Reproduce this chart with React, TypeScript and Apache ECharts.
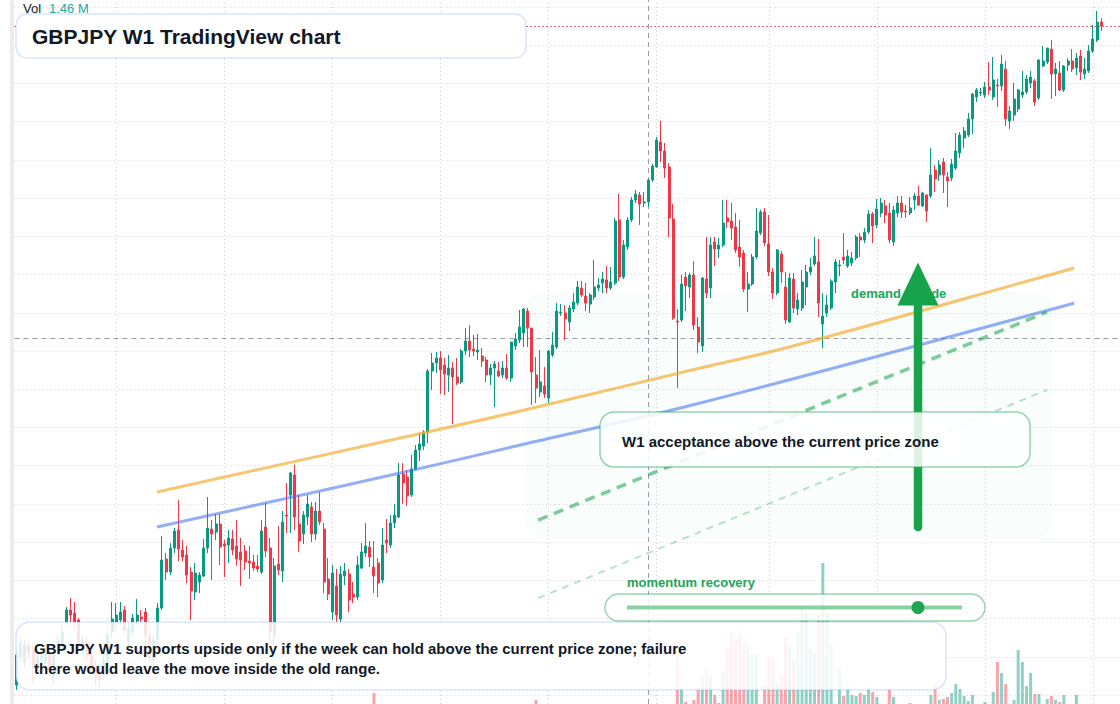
import React, { useEffect, useRef } from 'react';
import * as echarts from 'echarts';

// ---- weekly candles: [open, close, low, high] ----
const ohlc: number[][] = [
  [123.3,126.3,122.8,126.8],[126.1,127.5,125.6,128.0],[125.6,127.3,125.0,127.8],[127.2,126.6,125.8,127.6],
  [126.8,125.2,123.5,127.3],[125.3,126.1,124.8,126.6],[125.8,126.3,125.3,126.8],[125.6,126.4,125.2,127.0],
  [126.3,124.8,124.3,126.8],[124.2,126.3,123.4,126.8],[126.8,127.8,126.3,128.2],[127.3,128.6,127.0,129.1],
  [129.6,130.8,129.2,131.1],[130.8,130.3,129.3,132.0],[130.5,129.6,128.8,131.6],[129.8,127.3,126.8,130.0],
  [127.0,127.8,126.3,128.2],[127.6,126.3,125.6,128.0],[126.3,124.8,124.5,126.8],[125.0,124.3,123.3,125.8],
  [124.8,123.8,123.0,125.3],[124.3,125.8,123.8,126.3],[124.6,128.3,124.2,128.8],[128.6,129.9,128.0,131.6],
  [129.6,130.3,128.8,131.5],[129.8,130.6,129.3,131.6],[130.8,128.8,128.4,131.2],[127.6,129.0,127.2,129.6],
  [128.6,130.0,128.2,130.4],[129.7,130.3,129.3,131.9],[130.1,129.9,129.6,130.8],[130.6,128.3,127.3,131.0],
  [128.2,126.0,125.6,128.8],[125.8,127.8,125.3,128.3],[127.8,131.0,127.5,131.5],[131.0,135.8,130.8,138.2],
  [135.9,134.6,133.8,136.5],[134.6,137.0,134.3,137.5],[137.0,138.7,136.5,139.0],[138.8,136.9,135.7,141.8],
  [136.8,136.1,135.7,137.8],[136.3,134.3,133.5,137.2],[134.6,132.7,129.8,135.1],[132.6,134.5,131.8,135.5],
  [133.6,134.3,132.5,134.6],[134.2,137.0,134.1,137.9],[137.0,139.0,136.5,142.1],[138.9,138.4,133.8,139.8],
  [138.6,139.4,137.8,140.4],[139.4,137.1,135.3,140.4],[137.4,137.2,134.1,137.8],[137.3,138.0,135.5,138.8],
  [137.9,136.8,136.3,138.8],[137.2,135.9,135.2,139.8],[136.6,135.8,133.2,138.0],[136.7,135.6,134.8,137.3],
  [135.7,135.5,133.9,137.2],[135.6,135.0,134.7,136.3],[135.2,134.9,134.6,136.3],[134.6,138.7,134.4,139.8],
  [139.1,136.7,136.1,141.5],[137.0,128.6,127.8,138.0],[128.2,135.2,127.3,136.0],[135.4,134.8,134.3,139.2],
  [134.7,139.6,133.6,140.7],[140.3,140.2,138.5,143.5],[142.3,144.5,138.5,144.6],[144.3,140.1,138.8,145.3],
  [139.4,137.7,136.6,142.3],[138.4,140.3,137.4,140.7],[140.1,141.4,139.3,142.3],[141.1,138.4,137.6,141.6],
  [138.4,140.7,137.8,141.6],[140.7,139.6,139.3,142.6],[138.9,133.6,132.5,139.5],[133.9,132.4,131.8,136.0],
  [130.6,134.5,129.8,135.3],[133.2,130.3,129.6,134.9],[129.9,134.4,129.4,135.2],[134.2,134.7,133.3,135.5],
  [134.4,131.8,130.6,134.9],[132.4,132.1,131.5,133.6],[132.1,135.3,131.8,136.2],[135.0,136.6,134.9,137.5],
  [136.5,137.2,136.1,139.5],[137.1,136.1,135.1,137.7],[135.1,134.2,132.5,137.7],[135.5,133.5,132.1,136.0],
  [133.8,137.3,133.5,139.0],[137.8,137.5,136.5,139.9],[137.3,139.5,137.0,140.3],[139.5,140.3,139.0,141.4],
  [140.1,144.3,140.0,145.5],[144.4,143.5,141.4,145.5],[144.1,142.2,141.2,144.8],[142.3,144.9,142.1,146.3],
  [144.9,146.8,144.8,147.3],[146.8,147.4,145.7,148.5],[147.2,148.5,146.8,148.8],[148.6,154.7,147.5,154.9],
  [154.7,155.5,152.8,156.5],[155.5,156.0,154.5,156.6],[156.0,154.8,152.4,156.7],[155.3,154.4,152.3,156.0],
  [154.3,155.0,152.6,156.3],[155.0,154.1,149.4,155.6],[154.1,153.5,153.3,156.0],[153.6,156.7,153.4,156.9],
  [156.7,157.7,156.3,159.0],[157.7,156.8,156.1,159.3],[156.9,156.7,156.2,158.3],[156.6,156.8,155.8,158.4],
  [156.2,155.7,155.1,157.0],[155.8,154.3,153.6,156.1],[154.3,155.0,153.3,155.4],[155.0,155.4,151.1,155.7],
  [154.7,154.2,154.1,155.6],[154.3,155.0,154.0,155.7],[155.0,154.0,153.8,156.4],[154.0,157.6,153.6,157.6],
  [157.2,157.9,156.8,158.5],[157.8,159.1,157.5,160.8],[158.5,160.9,157.1,161.0],[160.7,159.0,157.1,161.0],
  [159.0,154.6,151.3,159.0],[154.3,153.0,151.5,156.1],[152.6,153.6,152.1,156.8],[153.2,152.4,152.0,155.1],
  [152.0,156.7,151.5,156.8],[156.3,157.3,156.1,158.6],[157.1,160.7,156.9,161.5],[160.5,160.6,160.2,161.4],
  [160.5,159.9,157.8,161.3],[159.6,161.0,158.7,161.3],[160.9,161.6,160.6,162.5],[161.5,163.1,161.3,163.7],
  [163.0,162.3,162.1,163.7],[162.2,161.5,160.7,163.5],[161.4,162.3,160.5,162.5],[162.1,163.1,161.8,165.8],
  [163.0,163.3,162.7,164.0],[163.5,163.9,162.5,164.6],[163.8,163.0,162.5,165.2],[163.0,163.6,162.8,165.1],
  [163.5,169.7,163.3,170.0],[169.8,164.1,163.7,172.4],[164.1,167.3,163.9,167.8],[167.1,169.8,166.8,170.1],
  [169.8,171.8,169.6,172.1],[171.8,172.4,171.5,172.8],[172.3,171.4,169.3,172.6],[171.5,171.6,171.1,172.6],
  [171.6,173.8,171.1,173.9],[173.8,175.2,173.6,175.4],[175.1,177.8,175.0,178.1],[177.6,176.7,175.6,179.7],
  [176.7,175.0,174.0,177.5],[175.1,170.0,168.1,175.5],[169.9,160.0,159.8,171.4],[159.7,159.6,153.0,160.9],
  [159.8,163.4,159.6,164.3],[164.1,163.2,160.7,164.6],[163.1,164.3,162.0,164.5],[164.3,159.3,158.8,165.7],
  [159.1,157.6,156.5,160.1],[157.2,164.0,156.6,164.1],[163.9,162.5,162.0,168.1],[163.0,167.3,162.0,168.1],
  [167.6,166.9,165.2,168.1],[166.9,167.3,166.0,168.0],[167.3,169.5,167.1,171.8],[170.0,169.6,169.0,171.8],
  [169.7,169.0,167.8,171.5],[169.1,166.8,166.5,170.5],[167.1,166.1,165.1,169.8],[166.5,162.9,162.6,166.8],
  [162.9,163.4,160.6,164.6],[163.4,166.1,163.2,166.4],[166.1,168.7,165.9,171.0],[168.5,170.6,168.3,170.8],
  [170.6,167.5,167.2,171.0],[167.4,164.6,164.2,170.3],[164.6,162.5,161.9,165.0],[162.5,166.8,162.3,166.9],
  [166.4,164.6,163.5,166.7],[163.1,159.8,159.4,164.6],[159.6,164.0,159.5,164.5],[163.9,161.0,160.5,164.5],
  [160.9,161.8,160.3,162.5],[161.0,163.6,160.7,164.8],[163.1,164.6,161.3,165.3],[164.6,165.1,164.3,166.0],
  [165.4,166.2,165.2,168.1],[165.6,161.5,160.1,167.9],[159.4,160.2,157.0,162.5],[160.5,161.3,160.1,162.3],
  [161.0,163.7,160.8,163.9],[163.6,165.6,162.5,165.9],[165.2,165.3,164.2,165.8],[166.1,165.8,165.4,168.5],
  [165.2,166.2,165.0,166.8],[165.5,166.0,165.2,166.6],[166.0,168.1,165.8,168.3],[168.1,167.8,166.1,168.5],
  [167.8,168.6,167.5,169.0],[168.6,170.4,168.4,170.8],[170.4,169.2,167.5,170.6],[169.3,170.9,169.0,171.9],
  [170.5,171.5,170.1,172.0],[171.2,170.3,169.5,171.8],[170.5,167.8,167.5,171.5],[167.6,170.8,167.2,171.2],
  [170.5,171.5,170.1,172.2],[171.5,170.6,170.0,172.2],[170.7,170.6,170.0,171.3],[170.5,171.0,170.3,172.1],
  [171.8,172.2,170.8,172.5],[172.2,171.3,171.2,173.2],[171.2,172.5,171.1,172.6],[172.3,170.7,169.6,172.4],
  [172.2,174.3,172.0,177.0],[174.8,173.9,172.6,175.3],[174.3,175.3,173.7,175.8],[175.6,174.3,172.5,176.0],
  [174.1,173.7,171.1,174.6],[174.0,175.4,173.7,175.9],[175.0,176.7,174.8,178.5],[176.5,178.3,176.0,178.6],
  [178.0,178.7,177.0,179.1],[178.3,179.9,178.1,180.5],[179.9,182.4,178.4,182.5],[182.1,182.8,181.6,183.0],
  [182.5,182.6,182.2,183.0],[182.3,183.1,182.0,183.6],[183.1,182.8,182.3,185.6],[182.1,183.8,181.8,186.1],
  [183.3,183.2,181.1,183.9],[183.2,185.4,182.7,186.3],[184.9,179.9,179.2,185.7],[179.7,180.7,178.9,181.2],
  [180.3,181.9,179.7,183.5],[180.9,182.8,180.6,182.9],[182.3,182.6,182.0,184.7],[182.6,183.9,182.4,184.3],
  [183.5,184.1,183.0,184.7],[183.7,181.6,181.2,183.9],[182.0,185.8,181.8,185.9],[185.2,185.7,185.1,187.2],
  [185.6,187.0,185.4,187.0],[186.9,184.4,181.9,187.8],[184.4,184.9,182.2,185.5],[184.5,182.8,182.7,185.7],
  [182.8,185.2,182.6,185.3],[185.3,185.7,184.7,186.0],[185.7,184.9,184.6,186.9],[185.0,186.0,184.3,186.5],
  [186.2,184.6,183.8,186.8],[184.4,184.9,183.9,186.0],[184.7,186.7,184.5,187.3],[186.7,187.9,186.5,189.3],
  [187.8,189.6,187.6,190.7],[189.6,189.2,188.7,190.0],
];

// ---- volume (thousands) ----
const earlyVolumeK: number[][] = [[86, 110], [125, 40]];
const volumeStartWeek = 159;
const volumeK: number[] = [
  470,160,20,0,40,170,270,340,280,90,10,330,550,710,640,700,610,590,500,500,
  0,180,480,470,210,280,670,580,450,710,990,910,560,510,890,1410,910,590,0,350,
  80,180,90,80,110,90,170,120,70,0,0,150,70,0,0,0,10,0,0,0,
  0,90,210,40,50,70,110,200,150,80,30,90,0,0,20,0,120,420,310,200,
  0,40,540,420,180,310,100,100,0,50,80,40,20,90,0,0,90,0,0,0,0,0,0,
];

// ---- drawn trend lines: [week index, price] ----
const orangeChannel: number[][] = [[33.8,142.6],[92.3,148.0],[121.2,150.7],[164.5,155.0],[185.9,157.1],[251.1,164.6],[254.5,165.0]];
const blueChannel: number[][] = [[33.8,139.1],[92.3,144.5],[121.2,147.3],[164.5,151.5],[251.1,161.1],[254.5,161.5]];
const greenDashUpper: number[][] = [[125.5,139.8],[247.9,160.6]];
const greenDashLower: number[][] = [[125.5,132.0],[247.9,152.8]];

const gridWeeks = [24, 50, 76, 102, 128, 154, 181, 207, 233, 259];
const crosshairWeek = 152;
const crosshairPrice = 158.0;
const totalSlots = 266;

const categories = Array.from({ length: totalSlots }, (_, i) => String(i));

const FONT = '"Liberation Sans", Arial, Helvetica, sans-serif';
const UP = '#089981';
const DOWN = '#f23645';

export default function App() {
  const ref = useRef<HTMLDivElement>(null);

  useEffect(() => {
    if (!ref.current) return;
    const chart = echarts.init(ref.current, null, { renderer: 'svg', width: 1120, height: 704 });

    const volumes: number[] = ohlc.map(() => 0);
    earlyVolumeK.forEach(([w, v]) => { volumes[w] = v; });
    volumeK.forEach((v, k) => { if (volumeStartWeek + k < volumes.length) volumes[volumeStartWeek + k] = v; });
    const volumeData = volumes.map((v, i) => ({
      value: v,
      itemStyle: { color: ohlc[i][1] >= ohlc[i][0] ? 'rgba(8,153,129,0.45)' : 'rgba(242,54,69,0.45)' },
    }));
    const lastClose = ohlc[ohlc.length - 1][1];

    const gridLine = { color: '#cdd0d6', width: 1, type: [1, 3] as number[] };

    const option: any = {
      animation: false,
      backgroundColor: '#ffffff',
      grid: [
        { left: 14.42, right: 0, top: 7, bottom: 9 },
        { left: 14.42, right: 0, top: 504, bottom: 0 },
        { left: 14.42, right: 0, top: 0, bottom: 0 },
      ],
      xAxis: [
        { type: 'category', gridIndex: 0, data: categories, boundaryGap: true, show: false },
        { type: 'value', gridIndex: 0, min: -0.5, max: totalSlots - 0.5, show: false },
        { type: 'value', gridIndex: 2, min: -0.5, max: totalSlots - 0.5, show: false },
        { type: 'category', gridIndex: 1, data: categories, boundaryGap: true, show: false },
      ],
      yAxis: [
        {
          type: 'value', gridIndex: 0, min: 122.304, max: 191.1, interval: 3.822,
          axisLabel: { show: false }, axisLine: { show: false }, axisTick: { show: false },
          splitLine: { show: true, lineStyle: gridLine },
        },
        { type: 'value', gridIndex: 1, min: 0, max: 2000, show: false },
        { type: 'value', gridIndex: 2, min: 0, max: 1, show: false },
      ],
      series: [
        {
          type: 'line', xAxisIndex: 2, yAxisIndex: 2, data: [[-5, 0.5]], showSymbol: false, silent: true, z: 1,
          lineStyle: { width: 0 },
          markLine: {
            silent: true, symbol: ['none', 'none'], label: { show: false }, z: 1, animation: false,
            data: [
              ...gridWeeks.map((w) => ({ xAxis: w, lineStyle: gridLine })),
              { xAxis: crosshairWeek, lineStyle: { color: '#9a9da5', width: 1, type: [5, 4] } },
            ],
          },
        },
        {
          type: 'bar', xAxisIndex: 3, yAxisIndex: 1, data: volumeData, barWidth: 3, z: 1, silent: true,
        },
        {
          type: 'candlestick', xAxisIndex: 0, yAxisIndex: 0, data: ohlc, barWidth: 2.5, z: 3, silent: true,
          itemStyle: { color: UP, color0: DOWN, borderColor: UP, borderColor0: DOWN, borderWidth: 1 },
        },
        {
          type: 'line', xAxisIndex: 1, yAxisIndex: 0, data: orangeChannel, smooth: 0.4, showSymbol: false, z: 4, silent: true,
          lineStyle: { color: 'rgba(245,166,35,0.65)', width: 3 },
        },
        {
          type: 'line', xAxisIndex: 1, yAxisIndex: 0, data: blueChannel, smooth: 0.4, showSymbol: false, z: 4, silent: true,
          lineStyle: { color: 'rgba(59,110,240,0.55)', width: 3 },
        },
        {
          type: 'line', xAxisIndex: 1, yAxisIndex: 0, data: greenDashUpper, showSymbol: false, z: 4, silent: true,
          lineStyle: { color: 'rgba(22,163,74,0.55)', width: 3.5, type: [10, 7] },
        },
        {
          type: 'line', xAxisIndex: 1, yAxisIndex: 0, data: greenDashLower, showSymbol: false, z: 4, silent: true,
          lineStyle: { color: 'rgba(22,163,74,0.3)', width: 2, type: [7, 6] },
        },
        {
          type: 'line', xAxisIndex: 1, yAxisIndex: 0, data: [[-5, 150]], showSymbol: false, silent: true, z: 1,
          lineStyle: { width: 0 },
          markLine: {
            silent: true, symbol: ['none', 'none'], label: { show: false }, z: 1, animation: false,
            data: [
              { yAxis: crosshairPrice, lineStyle: { color: '#9a9da5', width: 1, type: [5, 4] } },
              { yAxis: lastClose, lineStyle: { color: DOWN, width: 1.2, type: [1.5, 2.5] } },
            ],
          },
        },
      ],
      graphic: [
        { type: 'rect', z: 0, silent: true, shape: { x: 10, y: 0, width: 4, height: 704 }, style: { fill: '#ececec' } },
        { type: 'rect', z: 1, silent: true, shape: { x: 526, y: 292, width: 526, height: 246, r: 16 }, style: { fill: 'rgba(34,197,94,0.028)' } },
        {
          type: 'text', z: 5, x: 851, y: 293, silent: true,
          style: { text: 'demand upside', fill: '#22a559', font: `bold 13px ${FONT}`, textAlign: 'left', textVerticalAlign: 'middle', align: 'left', verticalAlign: 'middle' },
        },
        { type: 'line', z: 6, silent: true, shape: { x1: 918, y1: 527, x2: 918, y2: 300 }, style: { stroke: '#16a34a', lineWidth: 8.5, lineCap: 'round' } },
        { type: 'polygon', z: 6, silent: true, shape: { points: [[897.5, 305.5], [938.5, 305.5], [918, 262.5]] }, style: { fill: '#16a34a' } },
        {
          type: 'rect', z: 7, silent: true, shape: { x: 600, y: 412, width: 430, height: 55, r: 14 },
          style: { fill: 'rgba(255,255,255,0.85)', stroke: 'rgba(22,163,74,0.45)', lineWidth: 1.5 },
        },
        {
          type: 'text', z: 8, x: 622, y: 441, silent: true,
          style: { text: 'W1 acceptance above the current price zone', fill: '#111827', font: `bold 15px ${FONT}`, textAlign: 'left', textVerticalAlign: 'middle', align: 'left', verticalAlign: 'middle' },
        },
        {
          type: 'text', z: 8, x: 627, y: 582, silent: true,
          style: { text: 'momentum recovery', fill: '#22a559', font: `bold 13px ${FONT}`, textAlign: 'left', textVerticalAlign: 'middle', align: 'left', verticalAlign: 'middle' },
        },
        {
          type: 'rect', z: 7, silent: true, shape: { x: 605, y: 594, width: 380, height: 27, r: 13.5 },
          style: { fill: 'rgba(255,255,255,0.85)', stroke: 'rgba(22,163,74,0.45)', lineWidth: 1.5 },
        },
        { type: 'line', z: 8, silent: true, shape: { x1: 627, y1: 607.5, x2: 962, y2: 607.5 }, style: { stroke: 'rgba(22,163,74,0.5)', lineWidth: 4 } },
        { type: 'circle', z: 9, silent: true, shape: { cx: 918, cy: 607.5, r: 6.5 }, style: { fill: '#1fa653' } },
        {
          type: 'rect', z: 10, silent: true, shape: { x: 16, y: 14, width: 510, height: 44, r: 11 },
          style: { fill: '#ffffff', stroke: 'rgba(59,130,246,0.2)', lineWidth: 1.5 },
        },
        {
          type: 'text', z: 11, x: 32, y: 36.5, silent: true,
          style: { text: 'GBPJPY W1 TradingView chart', fill: '#111827', font: `bold 21px ${FONT}`, textAlign: 'left', textVerticalAlign: 'middle', align: 'left', verticalAlign: 'middle' },
        },
        {
          type: 'rect', z: 10, silent: true, shape: { x: 16, y: 622, width: 930, height: 68, r: 14 },
          style: { fill: 'rgba(255,255,255,0.86)', stroke: 'rgba(59,130,246,0.2)', lineWidth: 1.5 },
        },
        {
          type: 'text', z: 11, x: 34, y: 648.5, silent: true,
          style: { text: 'GBPJPY W1 supports upside only if the week can hold above the current price zone; failure', fill: '#111827', font: `bold 15px ${FONT}`, textAlign: 'left', textVerticalAlign: 'middle', align: 'left', verticalAlign: 'middle' },
        },
        {
          type: 'text', z: 11, x: 34, y: 668.5, silent: true,
          style: { text: 'there would leave the move inside the old range.', fill: '#111827', font: `bold 15px ${FONT}`, textAlign: 'left', textVerticalAlign: 'middle', align: 'left', verticalAlign: 'middle' },
        },
        {
          type: 'text', z: 11, x: 23, y: 8.5, silent: true,
          style: { text: 'Vol', fill: '#131722', font: `13px ${FONT}`, textAlign: 'left', textVerticalAlign: 'middle', align: 'left', verticalAlign: 'middle' },
        },
        {
          type: 'text', z: 11, x: 49, y: 8.5, silent: true,
          style: { text: '1.46 M', fill: '#26a69a', font: `13px ${FONT}`, textAlign: 'left', textVerticalAlign: 'middle', align: 'left', verticalAlign: 'middle' },
        },
      ],
    };

    chart.setOption(option);
    return () => chart.dispose();
  }, []);

  return (
    <div
      ref={ref}
      style={{ position: 'fixed', left: 0, top: 0, width: 1120, height: 704, background: '#ffffff' }}
    />
  );
}
